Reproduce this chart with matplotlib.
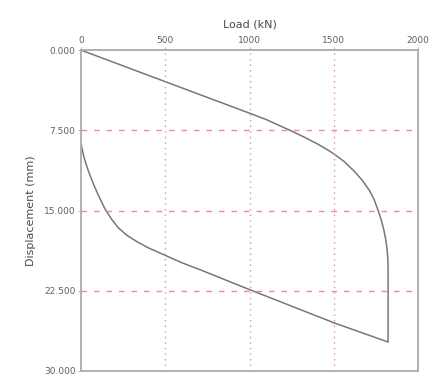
import matplotlib
matplotlib.use('Agg')
from matplotlib import pyplot as plt

# 加载段
load_up = [0, 500, 1000, 1100, 1170, 1240, 1320, 1400, 1460, 1500, 1560, 1620, 1670,
           1710, 1740, 1763, 1780, 1795, 1807, 1815, 1820, 1822, 1822]
disp_up = [0, 2.95, 5.9, 6.5, 7.0, 7.5, 8.1, 8.75, 9.3, 9.7, 10.4, 11.3, 12.2,
           13.1, 14.0, 15.0, 15.8, 16.7, 17.6, 18.5, 19.4, 20.3, 27.3]
# 卸载段
load_down = [1822, 1500, 1000, 700, 600, 500, 400, 330, 270, 220, 180, 140, 100,
             75, 50, 30, 15, 5, 0]
disp_down = [27.3, 25.5, 22.4, 20.5, 19.9, 19.2, 18.5, 17.9, 17.3, 16.6, 15.8, 14.8, 13.5,
             12.6, 11.6, 10.7, 9.9, 9.2, 8.7]

x_ticks = [0, 500, 1000, 1500, 2000]
y_ticks = [0, 7.5, 15, 22.5, 30]
y_labels = ['0.000', '7.500', '15.000', '22.500', '30.000']

fig = plt.figure(figsize=(4.41, 3.80), dpi=100)
ax = fig.add_axes([0.184, 0.024, 0.764, 0.844])

ax.plot(load_up + load_down, disp_up + disp_down, color='#777777', lw=1.1)

ax.set_xlim(0, 2000)
ax.set_ylim(30, 0)
ax.xaxis.tick_top()
ax.xaxis.set_label_position('top')
ax.set_xticks(x_ticks)
ax.set_yticks(y_ticks)
ax.set_yticklabels(y_labels)
ax.tick_params(length=2, colors='#bbbbbb', labelcolor='#606060', labelsize=6.5, pad=2)

# 网格线
for v in x_ticks[1:-1]:
    ax.axvline(v, color='#e89090', ls=(0, (1, 3)), lw=1)
for v in y_ticks[1:-1]:
    ax.axhline(v, color='#e89090', ls=(0, (4, 5)), lw=1)

for s in ax.spines.values():
    s.set_color('#aaaaaa')
    s.set_linewidth(1.3)

ax.set_xlabel('Load (kN)', fontsize=8, color='#4a4a4a', labelpad=6)
ax.set_ylabel('Displacement (mm)', fontsize=8, color='#4a4a4a', labelpad=6)

plt.savefig('out.png', dpi=100)
